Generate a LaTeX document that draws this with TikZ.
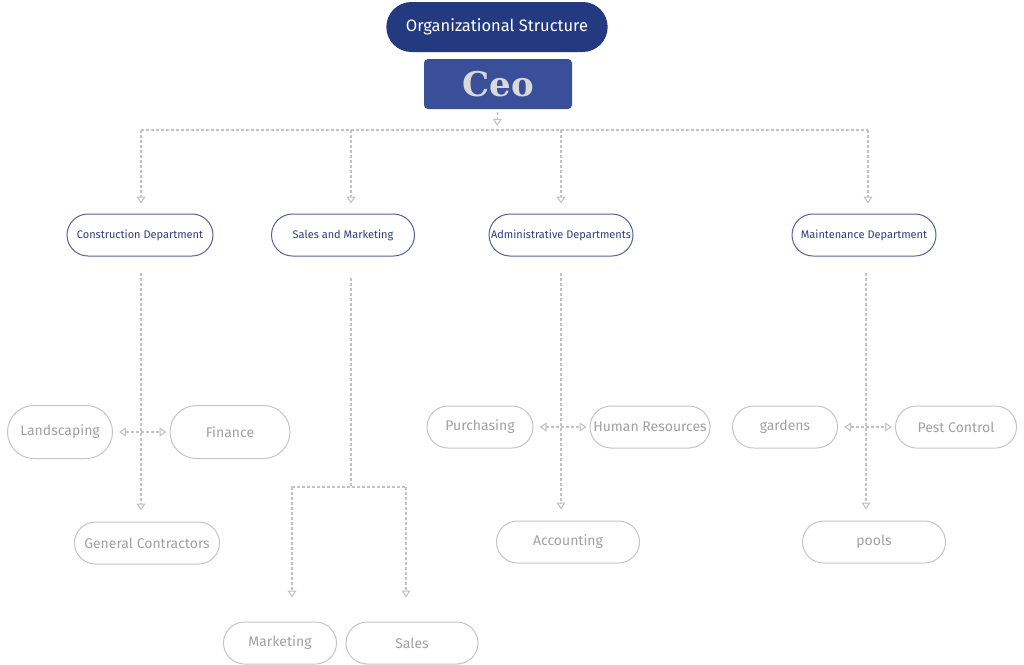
\documentclass[tikz,border=0pt]{standalone}
\usepackage{fontspec}
\setmainfont{Fira Sans}
\newfontfamily\ceofont{DejaVu Serif}
\usetikzlibrary{arrows.meta,shapes.misc}
\definecolor{titlenavy}{HTML}{233A80}
\definecolor{ceoblue}{HTML}{3A4F9A}
\definecolor{deptline}{HTML}{56609A}
\definecolor{depttext}{HTML}{2F3C7A}
\definecolor{leafline}{HTML}{C4C4C4}
\definecolor{leaftext}{HTML}{A0A0A0}
\definecolor{connc}{HTML}{C2C2C2}
\tikzset{
  pill/.style={rounded rectangle, minimum height=42pt, inner sep=2pt},
  dept/.style={pill, draw=deptline, line width=1pt, text=depttext, font=\fontsize{11}{13}\selectfont},
  leaf/.style={pill, draw=leafline, line width=1pt, text=leaftext, font=\fontsize{14}{17}\selectfont},
  conn/.style={draw=connc, line width=1.1pt, dash pattern=on 3pt off 2pt},
  tip/.style={-{Triangle[open,length=7pt,width=9pt]}},
  tips/.style={{Triangle[open,length=7pt,width=9pt]}-{Triangle[open,length=7pt,width=9pt]}},
}
\begin{document}
\begin{tikzpicture}[x=1pt,y=-1pt]
\useasboundingbox (0,0) rectangle (1024,664);
% title and ceo
\node[rounded rectangle, fill=titlenavy, text=white, minimum width=228pt, minimum height=50pt,
      font=\fontsize{16.5}{19}\selectfont] (title) at (497,27) {Organizational Structure};
\node[fill=ceoblue, rounded corners=4pt, minimum width=148pt, minimum height=50pt,
      text=black!15, font=\ceofont\bfseries\fontsize{34}{38}\selectfont] (ceo) at (498,84) {Ceo};
% departments
\node[dept, minimum width=150pt] (cons) at (140,235) {Construction Department};
\node[dept, minimum width=147pt] (sam) at (343,235) {Sales and Marketing};
\node[dept, minimum width=148pt] (admin) at (561,235) {Administrative Departments};
\node[dept, minimum width=148pt] (maint) at (864,235) {Maintenance Department};
% leaves
\node[leaf, minimum width=109pt, minimum height=53pt] (land) at (60,432) {Landscaping};
\node[leaf, minimum width=124pt, minimum height=53pt] (fin) at (230,432) {Finance};
\node[leaf, minimum width=149pt] (gc) at (147,543) {General Contractors};
\node[leaf, minimum width=117pt] (mkt) at (280,643) {Marketing};
\node[leaf, minimum width=136pt] (sales) at (412,643) {Sales};
\node[leaf, minimum width=110pt] (purch) at (480,427) {Purchasing};
\node[leaf, minimum width=124pt] (hr) at (650,427) {Human Resources};
\node[leaf, minimum width=147pt] (acct) at (568,542) {Accounting};
\node[leaf, minimum width=109pt] (gard) at (785,427) {gardens};
\node[leaf, minimum width=125pt] (pest) at (956,427) {Pest Control};
\node[leaf, minimum width=147pt] (pools) at (874,542) {pools};
% bus coordinates
\coordinate (busC) at (497,126);
\coordinate (b1) at (141,130);
\coordinate (b2) at (351,130);
\coordinate (b3) at (561,130);
\coordinate (b4) at (868,130);
\coordinate (smJ) at (351,487);
\coordinate (smL) at (292,487);
\coordinate (smR) at (406,487);
% connectors
\draw[conn,tip,shorten <=3pt] (ceo.south) -- (busC);
\draw[conn] (b1) -- (b4);
\draw[conn,tip,shorten >=10pt] (b1) -- (b1 |- cons.north);
\draw[conn,tip,shorten >=10pt] (b2) -- (b2 |- sam.north);
\draw[conn,tip,shorten >=10pt] (b3) -- (b3 |- admin.north);
\draw[conn,tip,shorten >=10pt] (b4) -- (b4 |- maint.north);
% construction
\draw[conn,tip,shorten <=16pt,shorten >=11pt] (b1 |- cons.south) -- (b1 |- gc.north);
\draw[conn,tips,shorten <=6pt,shorten >=3pt] (land.east) -- (fin.west);
% sales and marketing
\draw[conn,shorten <=21pt] (b2 |- sam.south) -- (smJ);
\draw[conn] (smL) -- (smR);
\draw[conn,tip,shorten >=24pt] (smL) -- (smL |- mkt.north);
\draw[conn,tip,shorten >=24pt] (smR) -- (smR |- sales.north);
% administrative
\draw[conn,tip,shorten <=16pt,shorten >=11pt] (admin.south) -- (admin.south |- acct.north);
\draw[conn,tips,shorten <=6pt,shorten >=3pt] (purch.east) -- (hr.west);
% maintenance
\draw[conn,tip,shorten <=16pt,shorten >=11pt] ([xshift=2pt]maint.south) -- ([xshift=2pt]maint.south |- pools.north);
\draw[conn,tips,shorten <=6pt,shorten >=3pt] (gard.east) -- (pest.west);
\end{tikzpicture}
\end{document}
